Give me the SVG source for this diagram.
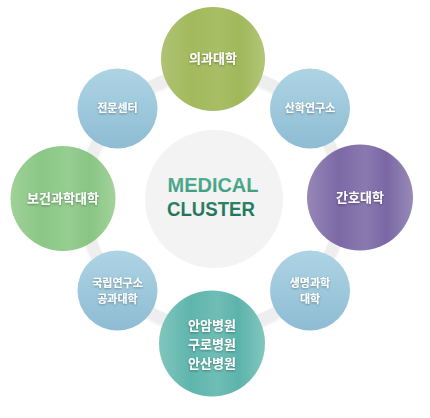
<svg xmlns="http://www.w3.org/2000/svg" width="430" height="418" viewBox="0 0 430 418">
<defs>
<linearGradient id="gGreen" x1="0" y1="0" x2="1" y2="0">
<stop offset="0" stop-color="#afc373"/><stop offset="0.3" stop-color="#a2b95c"/><stop offset="0.55" stop-color="#a8be66"/><stop offset="0.75" stop-color="#a0b85a"/><stop offset="1" stop-color="#b2c677"/>
</linearGradient>
<linearGradient id="gPurple" x1="0" y1="0" x2="1" y2="0">
<stop offset="0" stop-color="#9787b6"/><stop offset="0.3" stop-color="#7c69a6"/><stop offset="0.55" stop-color="#8a79b0"/><stop offset="0.75" stop-color="#7a67a4"/><stop offset="1" stop-color="#988ab8"/>
</linearGradient>
<linearGradient id="gLGreen" x1="0" y1="0" x2="1" y2="0">
<stop offset="0" stop-color="#9fd198"/><stop offset="0.3" stop-color="#8bc786"/><stop offset="0.55" stop-color="#97cd91"/><stop offset="0.75" stop-color="#88c583"/><stop offset="1" stop-color="#a3d39c"/>
</linearGradient>
<linearGradient id="gTeal" x1="0" y1="0" x2="1" y2="0">
<stop offset="0" stop-color="#7fc6be"/><stop offset="0.3" stop-color="#5fb5ac"/><stop offset="0.55" stop-color="#6fbeb5"/><stop offset="0.75" stop-color="#5cb3aa"/><stop offset="1" stop-color="#82c7bf"/>
</linearGradient>
<linearGradient id="gBlue" x1="0" y1="0" x2="0" y2="1">
<stop offset="0" stop-color="#aed4e4"/><stop offset="1" stop-color="#8ebcd3"/>
</linearGradient>
<linearGradient id="gMed" x1="0" y1="0" x2="0" y2="1">
<stop offset="0" stop-color="#56b294"/><stop offset="1" stop-color="#3d9a7d"/>
</linearGradient>
<linearGradient id="gClu" x1="0" y1="0" x2="0" y2="1">
<stop offset="0" stop-color="#2f876a"/><stop offset="1" stop-color="#1f6e55"/>
</linearGradient>
<filter id="ts" x="-20%" y="-50%" width="140%" height="200%">
<feDropShadow dx="0" dy="1" stdDeviation="0.8" flood-color="#000" flood-opacity="0.35"/>
</filter>
<filter id="cs" x="-20%" y="-20%" width="140%" height="140%">
<feDropShadow dx="0" dy="1" stdDeviation="1" flood-color="#000" flood-opacity="0.1"/>
</filter>
</defs>
<style>
.t{font-family:"Noto Sans CJK KR","Noto Sans",sans-serif;font-weight:700;fill:#fff;text-anchor:middle;filter:url(#ts)}
.big{font-size:13px}
.sm{font-size:11px}
.en{font-family:"Liberation Sans","Noto Sans",sans-serif;font-weight:700;font-size:20px;text-anchor:middle}
</style>
<rect width="430" height="418" fill="#fff"/>
<g id="connectors">
<circle cx="213" cy="200" r="129" fill="none" stroke="#eeeeee" stroke-width="12" filter="url(#cs)"/>
</g>
<g id="center">
<circle cx="214" cy="199" r="69" fill="#f3f3f3"/>
<text class="en" x="213" y="192" fill="url(#gMed)" textLength="91" lengthAdjust="spacingAndGlyphs">MEDICAL</text>
<text class="en" x="211" y="216" fill="url(#gClu)" textLength="88" lengthAdjust="spacingAndGlyphs">CLUSTER</text>
</g>
<g id="n-medicine">
<circle cx="213" cy="59" r="52" fill="url(#gGreen)"/>
<text class="t big" x="213" y="63">의과대학</text>
</g>
<g id="n-sanhak">
<circle cx="310" cy="108.5" r="40" fill="url(#gBlue)"/>
<text class="t sm" x="310" y="112">산학연구소</text>
</g>
<g id="n-nursing">
<circle cx="360" cy="197.5" r="53" fill="url(#gPurple)"/>
<text class="t big" x="360" y="202">간호대학</text>
</g>
<g id="n-life">
<circle cx="310" cy="290.5" r="40" fill="url(#gBlue)"/>
<text class="t sm" x="310" y="287">생명과학</text>
<text class="t sm" x="310" y="303">대학</text>
</g>
<g id="n-hospital">
<circle cx="212" cy="343.5" r="53" fill="url(#gTeal)"/>
<text class="t big" x="212" y="330">안암병원</text>
<text class="t big" x="212" y="349">구로병원</text>
<text class="t big" x="212" y="368">안산병원</text>
</g>
<g id="n-national">
<circle cx="117.5" cy="290.5" r="40" fill="url(#gBlue)"/>
<text class="t sm" x="117.5" y="287">국립연구소</text>
<text class="t sm" x="117.5" y="303">공과대학</text>
</g>
<g id="n-health">
<circle cx="63" cy="198.5" r="52.5" fill="url(#gLGreen)"/>
<text class="t big" x="63" y="203">보건과학대학</text>
</g>
<g id="n-special">
<circle cx="117.5" cy="108.5" r="40" fill="url(#gBlue)"/>
<text class="t sm" x="117.5" y="112">전문센터</text>
</g>
</svg>
